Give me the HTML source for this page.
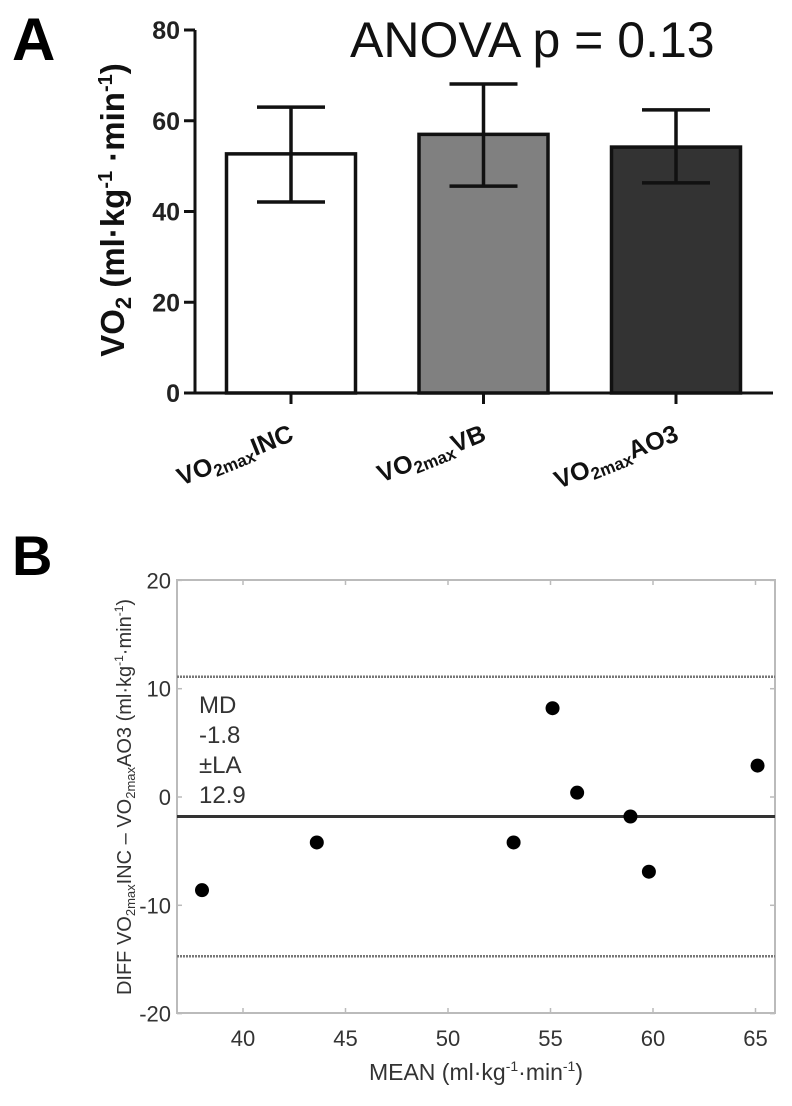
<!DOCTYPE html>
<html><head><meta charset="utf-8"><style>
body{margin:0;background:#fff;}
svg{display:block;font-family:"Liberation Sans",Arial,sans-serif;}
</style></head><body>
<svg id="fig" width="792" height="1106" viewBox="0 0 792 1106">
<text x="12" y="60" font-size="60" font-weight="bold">A</text>
<text x="12" y="575" font-size="56" font-weight="bold">B</text>
<text x="350" y="57" font-size="50" fill="#111">ANOVA p = 0.13</text>
<g id="a"></g>
<g id="b"></g>
</svg>
<script>
const barCats=["INC","VB","AO3"];
const barMeans=[52.7,57.0,54.2];
const barLo=[42.1,45.6,46.3];
const barHi=[63.0,68.1,62.4];
const barFills=["#ffffff","#808080","#333333"];
const aTicks=[0,20,40,60,80];

const ptX=[38.0,43.6,53.2,55.1,56.3,58.9,59.8,65.1];
const ptY=[-8.6,-4.2,-4.2,8.2,0.4,-1.8,-6.9,2.9];
const md=[-1.8];
const la=[12.9];
const bxTicks=[40,45,50,55,60,65];
const byTicks=[-20,-10,0,10,20];

const NS="http://www.w3.org/2000/svg";
function mk(p,t,at,txt){const e=document.createElementNS(NS,t);for(const k in at)e.setAttribute(k,at[k]);if(txt!==undefined)e.textContent=txt;p.appendChild(e);return e;}

// Panel A
const A=document.getElementById('a');
const ay=v=>393-v*(363/80);
const ax=i=>291+i*192.5;
const bw=129;
let e=mk(A,'line',{x1:195,y1:ay(80),x2:195,y2:ay(0),stroke:'#111','stroke-width':3});

e=mk(A,'line',{x1:193,y1:ay(0),x2:773,y2:ay(0),stroke:'#111','stroke-width':3});

aTicks.forEach(t=>{
 mk(A,'line',{x1:184,y1:ay(t),x2:195,y2:ay(t),stroke:'#111','stroke-width':3});
 const l=mk(A,'text',{x:180,y:ay(t)+9,'font-size':25,'font-weight':'bold','text-anchor':'end',fill:'#222'},String(t));
 
});
barCats.forEach((c,i)=>{
 const cx=ax(i);
 const r=mk(A,'rect',{x:cx-bw/2,y:ay(barMeans[i]),width:bw,height:ay(0)-ay(barMeans[i]),fill:barFills[i],stroke:'#111','stroke-width':3.5});
 
 const g=mk(A,'g',{stroke:'#111','stroke-width':3.5});
 
 mk(g,'line',{x1:cx,y1:ay(barHi[i]),x2:cx,y2:ay(barLo[i])});
 mk(g,'line',{x1:cx-34,y1:ay(barHi[i]),x2:cx+34,y2:ay(barHi[i])});
 mk(g,'line',{x1:cx-34,y1:ay(barLo[i]),x2:cx+34,y2:ay(barLo[i])});
 mk(A,'line',{x1:cx,y1:ay(0),x2:cx,y2:ay(0)+11,stroke:'#111','stroke-width':3});
 const t=mk(A,'text',{x:cx+4,y:440,'font-size':25,'font-weight':'bold','text-anchor':'end',fill:'#111',transform:`rotate(-22 ${cx+4} 440)`});
 
 t.innerHTML='VO<tspan font-size="17" dy="5">2max</tspan><tspan dy="-5">'+c+'</tspan>';
});
e=mk(A,'text',{x:0,y:0,'font-size':33,'font-weight':'bold','text-anchor':'middle',fill:'#111',transform:'translate(124 210) rotate(-90)'});

e.innerHTML='VO<tspan font-size="22" dy="7">2</tspan><tspan dy="-7"> (ml·kg</tspan><tspan font-size="20" dy="-12">-1</tspan><tspan dy="12"> ·min</tspan><tspan font-size="20" dy="-12">-1</tspan><tspan dy="12">)</tspan>';

// Panel B
const B=document.getElementById('b');
const L=177,R=775,T=580,Bo=1013;
const bx=v=>243+(v-40)*20.5;
const by=v=>797-v*10.83;
e=mk(B,'rect',{x:L,y:T,width:R-L,height:Bo-T,fill:'none',stroke:'#bbb','stroke-width':2});

bxTicks.forEach(t=>{
 mk(B,'line',{x1:bx(t),y1:Bo,x2:bx(t),y2:Bo-5,stroke:'#bbb','stroke-width':1.5});
 mk(B,'line',{x1:bx(t),y1:T,x2:bx(t),y2:T+5,stroke:'#bbb','stroke-width':1.5});
 const l=mk(B,'text',{x:bx(t),y:Bo+33,'font-size':22,'text-anchor':'middle',fill:'#333'},String(t));
 
});
byTicks.forEach(t=>{
 mk(B,'line',{x1:L,y1:by(t),x2:L+5,y2:by(t),stroke:'#bbb','stroke-width':1.5});
 mk(B,'line',{x1:R,y1:by(t),x2:R-5,y2:by(t),stroke:'#bbb','stroke-width':1.5});
 const l=mk(B,'text',{x:L-6,y:by(t)+8,'font-size':22,'text-anchor':'end',fill:'#333'},String(t));
 
});
e=mk(B,'line',{x1:L,y1:by(md[0]),x2:R,y2:by(md[0]),stroke:'#333','stroke-width':3});

[md[0]+la[0],md[0]-la[0]].forEach((v,i)=>{
 const l=mk(B,'line',{x1:L,y1:by(v),x2:R,y2:by(v),stroke:'#777','stroke-width':2.5,'stroke-dasharray':'2 1'});
 
});
ptX.forEach((x,i)=>{
 const c=mk(B,'circle',{cx:bx(x),cy:by(ptY[i]),r:7,fill:'#000'});
 
});
['MD',String(md[0]),'±LA',String(la[0])].forEach((s,i)=>{
 const t=mk(B,'text',{x:199,y:713+i*30,'font-size':24,fill:'#333'},s);
 
});
e=mk(B,'text',{x:476,y:1080,'font-size':23,'text-anchor':'middle',fill:'#333'});

e.innerHTML='MEAN (ml·kg<tspan font-size="14" dy="-9">-1</tspan><tspan dy="9">·min</tspan><tspan font-size="14" dy="-9">-1</tspan><tspan dy="9">)</tspan>';
e=mk(B,'text',{x:0,y:0,'font-size':20,'text-anchor':'middle',fill:'#333',transform:'translate(131 797) rotate(-90)'});

e.innerHTML='DIFF VO<tspan font-size="13" dy="4">2max</tspan><tspan dy="-4">INC – VO</tspan><tspan font-size="13" dy="4">2max</tspan><tspan dy="-4">AO3 (ml·kg</tspan><tspan font-size="12" dy="-8">-1</tspan><tspan dy="8">·min</tspan><tspan font-size="12" dy="-8">-1</tspan><tspan dy="8">)</tspan>';
</script>
</body></html>
